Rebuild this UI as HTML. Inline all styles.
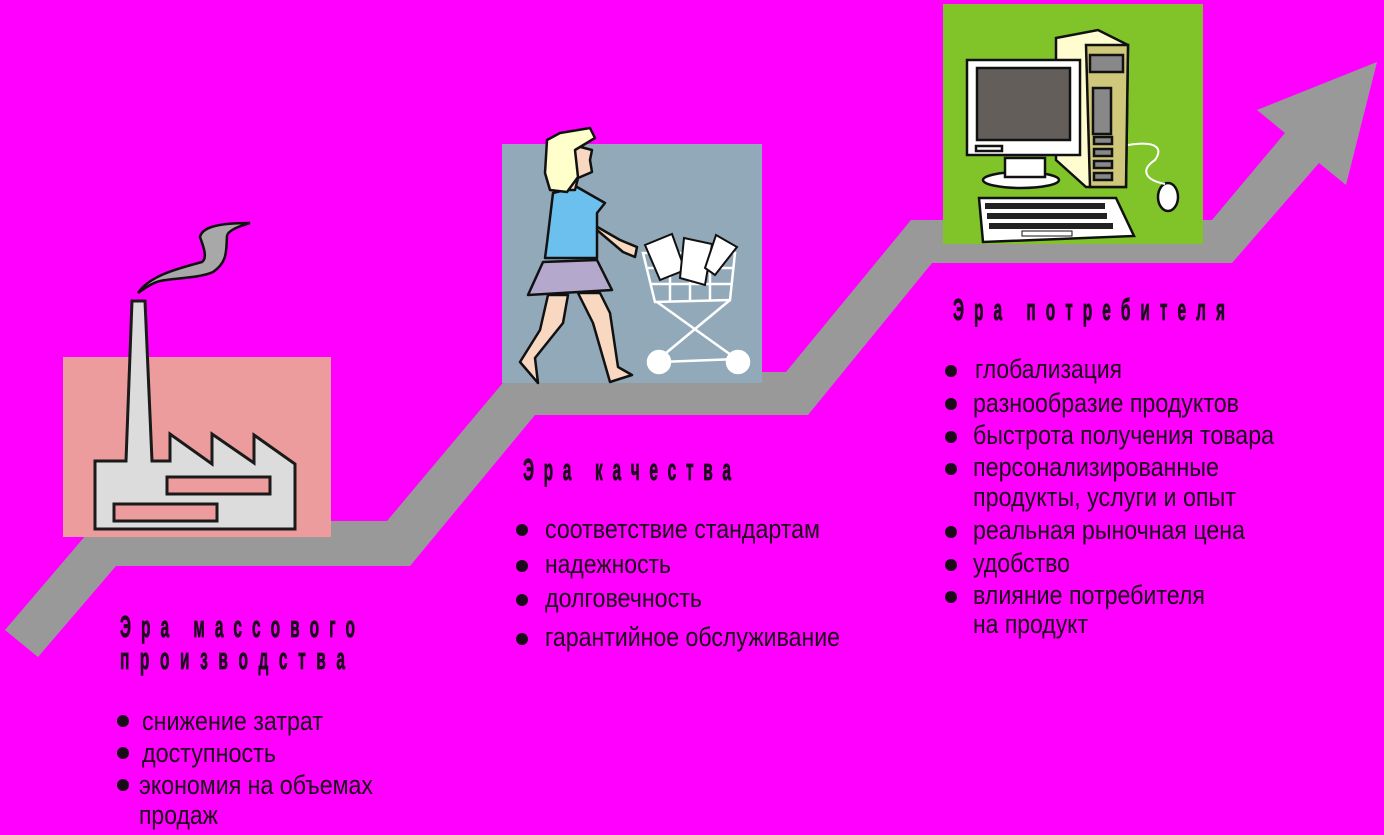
<!DOCTYPE html>
<html><head><meta charset="utf-8"><style>
html,body{margin:0;padding:0;background:#ff00ff;}
svg{display:block;}
text{font-family:"Liberation Sans",sans-serif;fill:#1a0a1a;}
.h{font-weight:bold;font-size:31px;stroke:#1a0a1a;stroke-width:0.8;}
.b{font-size:27px;}
</style></head><body>
<svg width="1384" height="835" viewBox="0 0 1384 835" xmlns="http://www.w3.org/2000/svg">
<rect width="1384" height="835" fill="#ff00ff"/>
<polygon fill="#999999" points="5,630 98,521 387,521 512,372 786,372 911,220 1212,220 1285,133 1257,110 1377,62 1346,185 1319,163 1232,263 932,263 808,415 535,415 410,566 116,566 38,657"/>
<rect x="63" y="357" width="268" height="180" fill="#ec9c9c"/>
<path d="M138,293 C150,275 180,268 202,262 C208,258 203,245 200,237 C202,228 215,223 250,223 C240,226 228,230 227,236 C226,250 228,262 213,272 C200,278 175,278 160,281 C152,283 145,288 138,293 Z" fill="#a8a8a8" stroke="#111" stroke-width="2.5"/>
<polygon points="95,461 126,461 132,301 145,301 152,461 170,461 170,434 212,464 212,434 254,463 254,435 295,464 295,529 95,529" fill="#dcdcdc" stroke="#1a1a1a" stroke-width="3"/>
<rect x="167" y="477" width="103" height="17" fill="#ec9c9c" stroke="#1a1a1a" stroke-width="3"/>
<rect x="114" y="504" width="103" height="17" fill="#ec9c9c" stroke="#1a1a1a" stroke-width="3"/>
<rect x="502" y="144" width="260" height="239" fill="#91a9b8"/>
<g stroke="#111" stroke-width="2.5" stroke-linejoin="round">
<polygon points="548,295 568,295 563,323 535,358 538,383 520,362 540,330" fill="#f8d8c0"/>
<polygon points="578,293 600,293 610,313 618,367 632,375 610,382 593,323" fill="#f8d8c0"/>
<polygon points="543,262 597,260 612,290 528,295" fill="#b4a8cc"/>
<polygon points="580,217 620,240 637,247 635,257 623,252 597,230" fill="#f8d8c0"/>
<polygon points="553,193 577,187 605,203 597,213 597,258 545,258 547,243" fill="#6cc0ee"/>
<polygon points="573,145 592,150 590,160 592,172 578,178 575,190 565,190" fill="#f8d8c0"/>
<polygon points="547,140 560,133 590,128 595,138 575,150 578,177 567,192 550,190 545,173" fill="#ffffcc"/>
</g>
<g stroke="#fff" stroke-width="2.5" fill="none">
<polygon points="643,253 735,253 730,300 655,302"/>
<line x1="648" y1="268" x2="733" y2="268"/><line x1="651" y1="284" x2="731" y2="284"/>
<line x1="670" y1="254" x2="670" y2="301"/><line x1="690" y1="254" x2="690" y2="301"/><line x1="710" y1="254" x2="710" y2="301"/>
<line x1="657" y1="302" x2="738" y2="360"/><line x1="730" y1="300" x2="660" y2="358"/>
<line x1="660" y1="362" x2="738" y2="359"/>
<circle cx="659" cy="362" r="11" fill="#fff"/><circle cx="738" cy="362" r="11" fill="#fff"/>
</g>
<g stroke="#111" stroke-width="2" fill="#fff">
<polygon points="645,245 672,234 685,270 660,280"/>
<polygon points="684,238 712,244 705,285 680,278"/>
<polygon points="716,235 737,247 715,275 705,268"/>
</g>
<rect x="943" y="4" width="260" height="240" fill="#80c42a"/>
<g stroke="#111" stroke-width="2.5">
<polygon points="1056,38 1098,30 1128,45 1126,187 1086,187 1056,160" fill="#fffccf"/>
<polygon points="1086,45 1128,45 1126,187 1090,187" fill="#cfc77a"/>
<rect x="1090" y="55" width="33" height="17" fill="#888"/>
<rect x="1093" y="88" width="18" height="46" fill="#888"/>
<rect x="1094" y="137" width="18" height="7" fill="#888"/><rect x="1094" y="149" width="18" height="7" fill="#888"/><rect x="1094" y="161" width="18" height="7" fill="#888"/><rect x="1094" y="173" width="18" height="7" fill="#888"/>
<ellipse cx="1021" cy="180" rx="38" ry="8" fill="#fff"/>
<rect x="1005" y="158" width="40" height="19" fill="#fff"/>
<rect x="967" y="60" width="113" height="95" fill="#fff"/>
<rect x="977" y="68" width="93" height="72" fill="#635e5a"/>
<rect x="976" y="146" width="26" height="5" fill="#fff"/>
<polygon points="979,198 1116,198 1134,236 983,242" fill="#fff"/>
<ellipse cx="1168" cy="197" rx="10" ry="14" fill="#fff"/>
</g>
<path d="M1128,145 C1160,140 1162,150 1155,160 C1140,170 1145,180 1165,184" stroke="#fff" stroke-width="2" fill="none"/>
<g fill="#222"><rect x="985" y="203" width="120" height="6"/><rect x="987" y="213" width="120" height="6"/><rect x="989" y="223" width="124" height="6"/></g>
<rect x="1022" y="231" width="50" height="5" fill="#fff" stroke="#111" stroke-width="1"/>
<g transform="translate(120,637) scale(0.5,1)"><text class="h" x="0" y="0" textLength="470" lengthAdjust="spacing">Э р а&#160;&#160; м а с с о в о г о</text></g>
<g transform="translate(120,669) scale(0.5,1)"><text class="h" x="0" y="0" textLength="450" lengthAdjust="spacing">п р о и з в о д с т в а</text></g>
<g transform="translate(523,480) scale(0.5,1)"><text class="h" x="0" y="0" textLength="416" lengthAdjust="spacing">Э р а&#160;&#160; к а ч е с т в а</text></g>
<g transform="translate(953,320) scale(0.5,1)"><text class="h" x="0" y="0" textLength="544" lengthAdjust="spacing">Э р а&#160;&#160; п о т р е б и т е л я</text></g>
<g fill="#1a0a1a">
<circle cx="123" cy="721" r="6"/><circle cx="123" cy="753" r="6"/><circle cx="123" cy="785" r="6"/>
<circle cx="522" cy="530" r="6"/><circle cx="522" cy="566" r="6"/><circle cx="522" cy="600" r="6"/><circle cx="522" cy="639" r="6"/>
<circle cx="951" cy="371" r="6"/><circle cx="951" cy="404" r="6"/><circle cx="951" cy="437" r="6"/><circle cx="951" cy="469" r="6"/><circle cx="951" cy="532" r="6"/><circle cx="951" cy="565" r="6"/><circle cx="951" cy="597" r="6"/>
</g>
<text class="b" x="142" y="730" textLength="181" lengthAdjust="spacingAndGlyphs">снижение затрат</text>
<text class="b" x="142" y="762" textLength="134" lengthAdjust="spacingAndGlyphs">доступность</text>
<text class="b" x="139" y="794" textLength="234" lengthAdjust="spacingAndGlyphs">экономия на объемах</text>
<text class="b" x="139" y="824" textLength="79" lengthAdjust="spacingAndGlyphs">продаж</text>
<text class="b" x="545" y="538" textLength="275" lengthAdjust="spacingAndGlyphs">соответствие стандартам</text>
<text class="b" x="545" y="573" textLength="126" lengthAdjust="spacingAndGlyphs">надежность</text>
<text class="b" x="545" y="607" textLength="157" lengthAdjust="spacingAndGlyphs">долговечность</text>
<text class="b" x="545" y="646" textLength="295" lengthAdjust="spacingAndGlyphs">гарантийное обслуживание</text>
<text class="b" x="975" y="378" textLength="147" lengthAdjust="spacingAndGlyphs">глобализация</text>
<text class="b" x="973" y="412" textLength="266" lengthAdjust="spacingAndGlyphs">разнообразие продуктов</text>
<text class="b" x="973" y="444" textLength="301" lengthAdjust="spacingAndGlyphs">быстрота получения товара</text>
<text class="b" x="973" y="476" textLength="246" lengthAdjust="spacingAndGlyphs">персонализированные</text>
<text class="b" x="973" y="506" textLength="263" lengthAdjust="spacingAndGlyphs">продукты, услуги и опыт</text>
<text class="b" x="973" y="539" textLength="272" lengthAdjust="spacingAndGlyphs">реальная рыночная цена</text>
<text class="b" x="973" y="572" textLength="97" lengthAdjust="spacingAndGlyphs">удобство</text>
<text class="b" x="973" y="604" textLength="232" lengthAdjust="spacingAndGlyphs">влияние потребителя</text>
<text class="b" x="973" y="633" textLength="115" lengthAdjust="spacingAndGlyphs">на продукт</text>
</svg>
</body></html>
